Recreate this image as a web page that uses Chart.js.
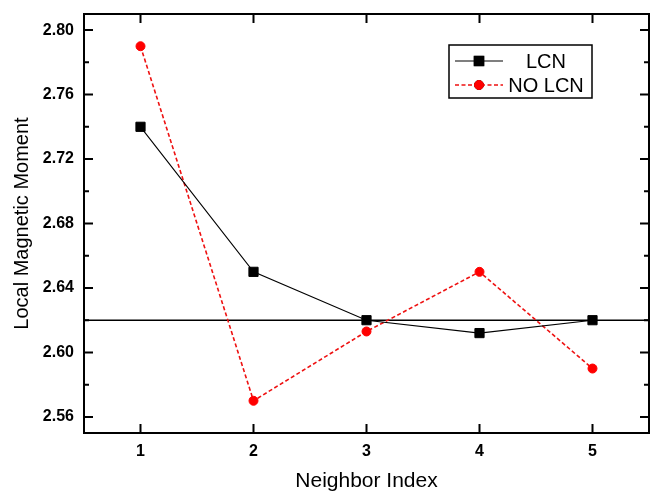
<!DOCTYPE html>
<html>
<head>
<meta charset="utf-8">
<script src="https://cdn.jsdelivr.net/npm/chart.js@4.4.1/dist/chart.umd.min.js"></script>
<style>
  body { margin: 0; background: #fff; }
  #wrap { width: 650px; height: 492px; }
</style>
</head>
<body>
<div id="wrap"><canvas id="momentChart" width="650" height="492"></canvas></div>
<script>
// Data
const neighborIndex = [1, 2, 3, 4, 5];
const lcnMoment = [2.74, 2.65, 2.62, 2.612, 2.62];
const noLcnMoment = [2.79, 2.57, 2.613, 2.65, 2.59];
const referenceMoment = 2.62;

const xTicks = [1, 2, 3, 4, 5];
const yTicks = [2.56, 2.60, 2.64, 2.68, 2.72, 2.76, 2.80];
const yMinorTicks = [2.58, 2.62, 2.66, 2.70, 2.74, 2.78];

const seriesNames = ['LCN', 'NO LCN'];

const FONT = "'Liberation Sans', Arial, sans-serif";

function toPoints(ys) {
    return neighborIndex.map((x, i) => ({ x: x, y: ys[i] }));
}

// Frame, inside ticks, reference line and boxed legend
const framePlugin = {
    id: 'frame',
    beforeDatasetsDraw(chart) {
        const { ctx, chartArea: a, scales: { y } } = chart;
        const py = y.getPixelForValue(referenceMoment);
        ctx.save();
        ctx.strokeStyle = '#000';
        ctx.lineWidth = 1.6;
        ctx.beginPath();
        ctx.moveTo(a.left, py);
        ctx.lineTo(a.right, py);
        ctx.stroke();
        ctx.restore();
    },
    afterDatasetsDraw(chart) {
        const { ctx, chartArea: a, scales: { x, y } } = chart;
        ctx.save();
        ctx.strokeStyle = '#000';
        ctx.lineWidth = 2;
        ctx.strokeRect(a.left, a.top, a.right - a.left, a.bottom - a.top);

        ctx.beginPath();
        xTicks.forEach(v => {
            const px = x.getPixelForValue(v);
            ctx.moveTo(px, a.bottom); ctx.lineTo(px, a.bottom - 9);
            ctx.moveTo(px, a.top); ctx.lineTo(px, a.top + 9);
        });
        yTicks.forEach(v => {
            const py = y.getPixelForValue(v);
            ctx.moveTo(a.left, py); ctx.lineTo(a.left + 9, py);
            ctx.moveTo(a.right, py); ctx.lineTo(a.right - 9, py);
        });
        yMinorTicks.forEach(v => {
            const py = y.getPixelForValue(v);
            ctx.moveTo(a.left, py); ctx.lineTo(a.left + 5, py);
            ctx.moveTo(a.right, py); ctx.lineTo(a.right - 5, py);
        });
        ctx.stroke();

        // legend box
        const bx = a.right - 200, by = a.top + 31, bw = 143, bh = 53;
        ctx.fillStyle = '#fff';
        ctx.fillRect(bx, by, bw, bh);
        ctx.lineWidth = 1.5;
        ctx.strokeRect(bx, by, bw, bh);
        ctx.font = '20px ' + FONT;
        ctx.textAlign = 'center';
        ctx.textBaseline = 'middle';
        chart.data.datasets.forEach((ds, i) => {
            const ry = by + 16 + i * 24;
            const lx0 = bx + 6, lx1 = bx + 54, mx = bx + 30;
            ctx.save();
            ctx.strokeStyle = ds.borderColor;
            ctx.lineWidth = ds.borderWidth;
            ctx.setLineDash(ds.borderDash || []);
            ctx.beginPath();
            ctx.moveTo(lx0, ry); ctx.lineTo(lx1, ry);
            ctx.stroke();
            ctx.restore();
            Chart.helpers.drawPoint(ctx, {
                pointStyle: ds.pointStyle,
                radius: ds.pointRadius,
                borderWidth: ds.pointBorderWidth,
                rotation: 0
            }, mx, ry);
            ctx.fillStyle = ds.pointBackgroundColor;
            ctx.strokeStyle = ds.pointBorderColor;
            ctx.lineWidth = ds.pointBorderWidth;
            ctx.fill();
            ctx.stroke();
            ctx.fillStyle = '#000';
            ctx.fillText(seriesNames[i], bx + 97, ry + 1);
        });
        ctx.restore();
    }
};

const ctx = document.getElementById('momentChart').getContext('2d');
new Chart(ctx, {
    type: 'line',
    data: {
        datasets: [{
            label: seriesNames[0],
            data: toPoints(lcnMoment),
            borderColor: '#000',
            borderWidth: 1.1,
            pointStyle: 'rect',
            pointRadius: 6.5,
            pointBackgroundColor: '#000',
            pointBorderColor: '#000',
            pointBorderWidth: 1,
            fill: false,
            tension: 0
        }, {
            label: seriesNames[1],
            data: toPoints(noLcnMoment),
            borderColor: '#ee1111',
            borderWidth: 1.6,
            borderDash: [4, 2.5],
            pointStyle: 'circle',
            pointRadius: 4.5,
            pointBackgroundColor: '#ff0000',
            pointBorderColor: '#ff0000',
            pointBorderWidth: 1,
            fill: false,
            tension: 0
        }]
    },
    options: {
        responsive: false,
        animation: false,
        layout: { autoPadding: false, padding: { top: 14, right: 1, left: 0, bottom: 0 } },
        plugins: {
            legend: { display: false },
            tooltip: { enabled: false }
        },
        scales: {
            x: {
                type: 'linear',
                min: 0.5,
                max: 5.5,
                afterBuildTicks: s => { s.ticks = xTicks.map(v => ({ value: v })); },
                afterFit: s => { s.height = 59; s.paddingLeft = 0; s.paddingRight = 0; },
                grid: { display: false, drawTicks: false },
                border: { display: false },
                ticks: { padding: 9, color: '#000', font: { family: FONT, size: 16, weight: 'bold' } },
                title: {
                    display: true, text: 'Neighbor Index', color: '#000',
                    font: { family: FONT, size: 21, lineHeight: 1 },
                    padding: { top: 0, bottom: 0 }
                }
            },
            y: {
                min: 2.55,
                max: 2.81,
                afterBuildTicks: s => { s.ticks = yTicks.map(v => ({ value: v })); },
                afterFit: s => { s.width = 84; s.paddingTop = 0; s.paddingBottom = 0; },
                grid: { display: false, drawTicks: false },
                border: { display: false },
                ticks: {
                    padding: 10, color: '#000',
                    font: { family: FONT, size: 16, weight: 'bold' },
                    callback: v => v.toFixed(2)
                },
                title: {
                    display: true, text: 'Local Magnetic Moment', color: '#000',
                    font: { family: FONT, size: 20 },
                    padding: { top: 10, bottom: 0 }
                }
            }
        }
    },
    plugins: [framePlugin]
});
</script>
</body>
</html>
